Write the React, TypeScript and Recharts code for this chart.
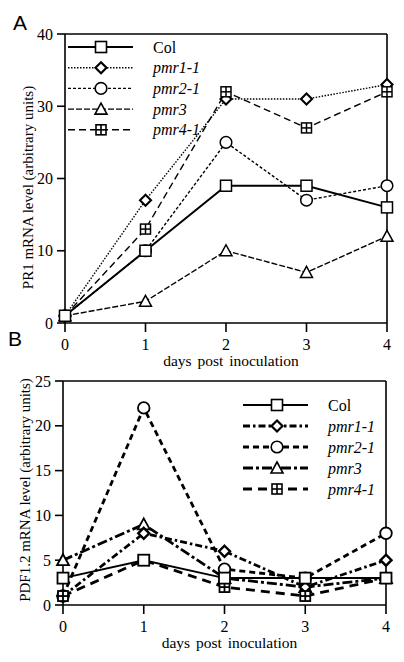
import React from 'react';
import { LineChart, Line, XAxis, YAxis, ReferenceLine, Legend } from 'recharts';

const days = [0, 1, 2, 3, 4];

// panel A: PR1
const pr1Col = [1, 10, 19, 19, 16];
const pr1Pmr11 = [1, 17, 31, 31, 33];
const pr1Pmr21 = [1, 10, 25, 17, 19];
const pr1Pmr3 = [1, 3, 10, 7, 12];
const pr1Pmr41 = [1, 13, 32, 27, 32];
const pr1Ticks = [0, 10, 20, 30, 40];

// panel B: PDF1.2
const pdfCol = [3, 5, 3, 3, 3];
const pdfPmr11 = [1, 8, 6, 2, 5];
const pdfPmr21 = [1, 22, 4, 3, 8];
const pdfPmr3 = [5, 9, 3, 2, 3];
const pdfPmr41 = [1, 5, 2, 1, 3];
const pdfTicks = [0, 5, 10, 15, 20, 25];

const FONT = 'Liberation Serif, DejaVu Serif, serif';

const dataA = days.map((d, i) => ({
  day: d, col: pr1Col[i], pmr11: pr1Pmr11[i], pmr21: pr1Pmr21[i], pmr3: pr1Pmr3[i], pmr41: pr1Pmr41[i],
}));
const dataB = days.map((d, i) => ({
  day: d, col: pdfCol[i], pmr11: pdfPmr11[i], pmr21: pdfPmr21[i], pmr3: pdfPmr3[i], pmr41: pdfPmr41[i],
}));

type Shape = 'square' | 'diamond' | 'circle' | 'triangle' | 'squarePlus';
type Series = { key: string; name: string; italic: boolean; shape: Shape; dash?: string; width: number };

// legend order
const seriesA: Series[] = [
  { key: 'col', name: 'Col', italic: false, shape: 'square', width: 2 },
  { key: 'pmr11', name: 'pmr1-1', italic: true, shape: 'diamond', dash: '1.5 1.5', width: 1.4 },
  { key: 'pmr21', name: 'pmr2-1', italic: true, shape: 'circle', dash: '3 2', width: 1.4 },
  { key: 'pmr3', name: 'pmr3', italic: true, shape: 'triangle', dash: '6 2', width: 1.4 },
  { key: 'pmr41', name: 'pmr4-1', italic: true, shape: 'squarePlus', dash: '7 4', width: 1.4 },
];
const seriesB: Series[] = [
  { key: 'col', name: 'Col', italic: false, shape: 'square', width: 2 },
  { key: 'pmr11', name: 'pmr1-1', italic: true, shape: 'diamond', dash: '7 3 2.5 3', width: 2.8 },
  { key: 'pmr21', name: 'pmr2-1', italic: true, shape: 'circle', dash: '6 4', width: 2.8 },
  { key: 'pmr3', name: 'pmr3', italic: true, shape: 'triangle', dash: '10 3 3 3', width: 2.8 },
  { key: 'pmr41', name: 'pmr4-1', italic: true, shape: 'squarePlus', dash: '9 6', width: 2.8 },
];
// drawing order, Col on top
const drawOrder = ['pmr3', 'pmr21', 'pmr11', 'pmr41', 'col'];

function Marker({ shape, cx, cy, sw }: { shape: Shape; cx: number; cy: number; sw: number }) {
  const p = { fill: '#fff', stroke: '#000', strokeWidth: sw };
  switch (shape) {
    case 'square':
      return <rect x={cx - 5.5} y={cy - 5.5} width={11} height={11} {...p} />;
    case 'diamond':
      return <polygon points={`${cx},${cy - 5.5} ${cx + 5.5},${cy} ${cx},${cy + 5.5} ${cx - 5.5},${cy}`} {...p} strokeWidth={sw + 0.6} />;
    case 'circle':
      return <circle cx={cx} cy={cy} r={5.8} {...p} />;
    case 'triangle':
      return <polygon points={`${cx},${cy - 6} ${cx + 6},${cy + 5} ${cx - 6},${cy + 5}`} {...p} />;
    default:
      return (
        <g>
          <rect x={cx - 5} y={cy - 5} width={10} height={10} {...p} />
          <line x1={cx - 5} x2={cx + 5} y1={cy} y2={cy} stroke="#000" strokeWidth={sw} />
          <line x1={cx} x2={cx} y1={cy - 5} y2={cy + 5} stroke="#000" strokeWidth={sw} />
        </g>
      );
  }
}

function LegendBox({ series, x1, x2, mx, tx, rowH }: { series: Series[]; x1: number; x2: number; mx: number; tx: number; rowH: number }) {
  return (
    <svg width={200} height={10 + rowH * series.length} style={{ display: 'block' }}>
      {series.map((s, i) => {
        const y = 10 + i * rowH;
        return (
          <g key={s.key}>
            <line x1={x1} x2={x2} y1={y} y2={y} stroke="#000" strokeWidth={s.width} strokeDasharray={s.dash} />
            <Marker shape={s.shape} cx={mx} cy={y} sw={1.6} />
            <text x={tx} y={y} dy="0.35em" style={{ fontFamily: FONT, fontSize: 16, fontStyle: s.italic ? 'italic' : 'normal' }} fill="#000">
              {s.name}
            </text>
          </g>
        );
      })}
    </svg>
  );
}

const yTitle = (text: string, dx: number, dy: number) => (props: any) => {
  const vb = props.viewBox;
  const cx = vb.x + dx;
  const cy = vb.y + vb.height / 2 + dy;
  return (
    <text x={cx} y={cy} transform={`rotate(-90 ${cx} ${cy})`} textAnchor="middle" dominantBaseline="central" style={{ fontFamily: FONT, fontSize: 15 }} fill="#000">
      {text}
    </text>
  );
};

const xTitle = (props: any) => {
  const vb = props.viewBox;
  return (
    <text x={vb.x + vb.width / 2 + 5} y={vb.y + 43} textAnchor="middle" style={{ fontFamily: FONT, fontSize: 15.5, wordSpacing: 2 }} fill="#000">
      days post inoculation
    </text>
  );
};

const tickStyle = { fill: '#000', fontFamily: FONT, fontSize: 16 };
const axisLine = { stroke: '#000', strokeWidth: 1.6 };

type PanelProps = {
  data: any[];
  series: Series[];
  yMax: number;
  yTicks: number[];
  yLabel: string;
  height: number;
  margin: { top: number; right: number; left: number; bottom: number };
  labelDx: number;
  labelDy: number;
  legendPos: { top: number; left: number };
  legend: { x1: number; x2: number; mx: number; tx: number; rowH: number };
  markerSw: number;
};

function Panel(p: PanelProps) {
  return (
    <LineChart width={404} height={p.height} data={p.data} margin={p.margin} style={{ fontFamily: FONT }}>
      <XAxis
        dataKey="day"
        type="number"
        domain={[0, 4]}
        ticks={days}
        tick={tickStyle}
        tickSize={9}
        tickMargin={7}
        tickLine={axisLine}
        axisLine={axisLine}
        height={40}
        label={{ content: xTitle }}
      />
      <YAxis
        type="number"
        domain={[0, p.yMax]}
        ticks={p.yTicks}
        tick={tickStyle}
        tickSize={8}
        tickMargin={4}
        tickLine={axisLine}
        axisLine={axisLine}
        width={40}
        label={{ content: yTitle(p.yLabel, p.labelDx, p.labelDy) }}
      />
      <ReferenceLine y={p.yMax} stroke="#000" strokeWidth={1.6} />
      <ReferenceLine x={4} stroke="#000" strokeWidth={1.6} />
      <Legend
        layout="vertical"
        align="center"
        verticalAlign="middle"
        wrapperStyle={{ top: p.legendPos.top, left: p.legendPos.left, width: 200 }}
        content={() => <LegendBox series={p.series} {...p.legend} />}
      />
      {drawOrder.map(k => {
        const s = p.series.find(x => x.key === k)!;
        return (
          <Line
            key={s.key}
            dataKey={s.key}
            name={s.name}
            type="linear"
            stroke="#000"
            strokeWidth={s.width}
            strokeDasharray={s.dash}
            isAnimationActive={false}
            dot={(d: any) => <Marker key={`${s.key}-${d.index}`} shape={s.shape} cx={d.cx} cy={d.cy} sw={p.markerSw} />}
            activeDot={false}
          />
        );
      })}
    </LineChart>
  );
}

const letter = { position: 'absolute' as const, fontFamily: 'Liberation Sans, Arial, sans-serif', fontSize: 21, lineHeight: '21px', color: '#000' };

export default function App() {
  return (
    <div style={{ position: 'absolute', left: 0, top: 0, width: 404, height: 662, background: '#fff', overflow: 'hidden', fontFamily: FONT }}>
      <div style={{ position: 'absolute', left: 0, top: 0 }}>
        <Panel
          data={dataA}
          series={seriesA}
          yMax={40}
          yTicks={pr1Ticks}
          yLabel="PR1 mRNA level (arbitrary units)"
          height={372}
          margin={{ top: 34, right: 17, left: 25, bottom: 9 }}
          labelDx={3}
          labelDy={9}
          legendPos={{ top: 37, left: 60 }}
          legend={{ x1: 8, x2: 73, mx: 41, tx: 93, rowH: 20.7 }}
          markerSw={1.5}
        />
      </div>
      <div style={{ position: 'absolute', left: 0, top: 330 }}>
        <Panel
          data={dataB}
          series={seriesB}
          yMax={25}
          yTicks={pdfTicks}
          yLabel="PDF1.2 mRNA level (arbitrary units)"
          height={332}
          margin={{ top: 51, right: 18, left: 23, bottom: 17 }}
          labelDx={2}
          labelDy={-3}
          legendPos={{ top: 65, left: 235 }}
          legend={{ x1: 8, x2: 73, mx: 42, tx: 93, rowH: 21 }}
          markerSw={1.8}
        />
      </div>
      <div style={{ ...letter, left: 13, top: 12 }}>A</div>
      <div style={{ ...letter, left: 8, top: 328 }}>B</div>
    </div>
  );
}
